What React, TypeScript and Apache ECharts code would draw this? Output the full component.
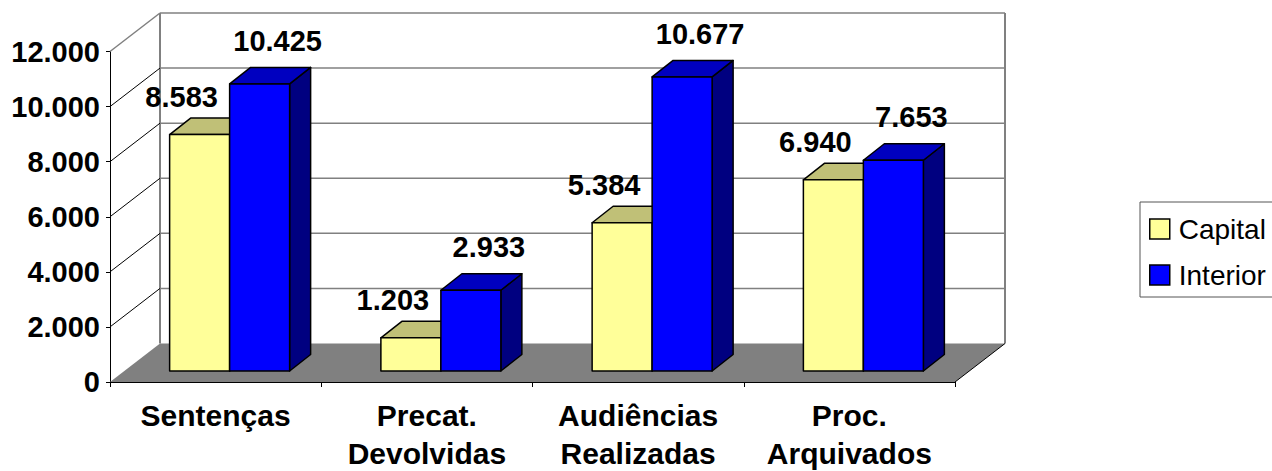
import React, { useEffect, useRef } from 'react';
import * as echarts from 'echarts';

const categories = ['Sentenças', 'Precat.\nDevolvidas', 'Audiências\nRealizadas', 'Proc.\nArquivados'];
const capital = [8583, 1203, 5384, 6940];
const interior = [10425, 2933, 10677, 7653];
const yTicks = [0, 2000, 4000, 6000, 8000, 10000, 12000];

const FONT = '"Liberation Sans", Arial, sans-serif';
const DEPTH = [50, -38.5];
const FRONT = [14, -11];
const BAR_D = [21, -16.5];

const fmt = (v: number) => String(v).replace(/\B(?=(\d{3})+(?!\d))/g, '.');

function barRender(side: number, front: string, top: string, sideCol: string) {
  return (params: any, api: any) => {
    const idx = api.value(0);
    const v = api.value(1);
    const base = api.coord([idx, 0]);
    const tp = api.coord([idx, v]);
    const band = api.size([1, 0])[0];
    const w = band * 0.284;
    const cx = base[0] + FRONT[0];
    const l = side === 0 ? cx - w : cx;
    const r = l + w;
    const b = base[1] + FRONT[1];
    const t = tp[1] + FRONT[1];
    const [dx, dy] = BAR_D;
    const stroke = { stroke: '#000', lineWidth: 1.5, lineJoin: 'round' };
    const labelX = side === 0 ? (l + r) / 2 - 18 : (l + r) / 2 + 18;
    const labelY = side === 0 ? t + dy - 7 : t + dy - 12;
    return {
      type: 'group',
      children: [
        { type: 'polygon', shape: { points: [[r, t], [r + dx, t + dy], [r + dx, b + dy], [r, b]] }, style: { fill: sideCol, ...stroke } },
        { type: 'polygon', shape: { points: [[l, t], [r, t], [r + dx, t + dy], [l + dx, t + dy]] }, style: { fill: top, ...stroke } },
        { type: 'rect', shape: { x: l, y: t, width: w, height: b - t }, style: { fill: front, ...stroke } },
        {
          type: 'text',
          x: labelX,
          y: labelY,
          style: { text: fmt(v), fontSize: 29, fontWeight: 'bold', fontFamily: FONT, fill: '#000', align: 'center', verticalAlign: 'bottom' },
        },
      ],
    };
  };
}

function frameRender(params: any, api: any) {
  const v = api.value(1);
  const cs = params.coordSys;
  const x0 = cs.x;
  const x1 = cs.x + cs.width;
  const y = api.coord([0, v])[1];
  const [dx, dy] = DEPTH;
  const children: any[] = [];
  if (params.dataIndex === 0) {
    const yTop = cs.y + dy;
    const yBot = cs.y + cs.height + dy;
    children.push({ type: 'rect', shape: { x: x0 + dx, y: yTop, width: cs.width, height: yBot - yTop }, style: { fill: '#fff' } });
    children.push({ type: 'line', shape: { x1: x0 + dx, y1: yTop, x2: x0 + dx, y2: yBot }, style: { stroke: '#808080', lineWidth: 2 } });
    children.push({ type: 'line', shape: { x1: x1 + dx, y1: yTop, x2: x1 + dx, y2: yBot }, style: { stroke: '#808080', lineWidth: 2 } });
    children.push({
      type: 'polygon',
      shape: { points: [[x0, y], [x1, y], [x1 + dx, y + dy], [x0 + dx, y + dy]] },
      style: { fill: '#808080' },
    });
    children.push({ type: 'line', shape: { x1: x1, y1: y, x2: x1 + dx, y2: y + dy }, style: { stroke: '#000', lineWidth: 1 } });
  } else {
    const top = v === yTicks[yTicks.length - 1];
    children.push({ type: 'line', shape: { x1: x0, y1: y, x2: x0 + dx, y2: y + dy }, style: { stroke: top ? '#808080' : '#000', lineWidth: top ? 1.5 : 1 } });
    children.push({ type: 'line', shape: { x1: x0 + dx, y1: y + dy, x2: x1 + dx, y2: y + dy }, style: { stroke: '#808080', lineWidth: 1.5 } });
  }
  return { type: 'group', children };
}

export default function App() {
  const ref = useRef<HTMLDivElement>(null);
  useEffect(() => {
    const chart = echarts.init(ref.current!, null, { renderer: 'svg' });
    chart.setOption({
      animation: false,
      backgroundColor: '#fff',
      grid: { left: 110, top: 51.5, right: 317, bottom: 89, outerBoundsMode: 'none' },
      legend: {
        orient: 'vertical',
        left: 1140,
        top: 202,
        padding: [13, 20, 8, 9],
        itemWidth: 20,
        itemHeight: 20,
        itemGap: 18,
        borderColor: '#555',
        borderWidth: 1,
        icon: 'rect',
        itemStyle: { borderColor: '#000', borderWidth: 1.5 },
        textStyle: { fontSize: 28, fontFamily: FONT, color: '#000', padding: [0, 0, 0, 4] },
        data: ['Capital', 'Interior'],
      },
      xAxis: {
        type: 'category',
        data: categories,
        boundaryGap: true,
        axisLine: { lineStyle: { color: '#000', width: 1 } },
        axisTick: { show: true, length: 5, interval: 0, lineStyle: { color: '#000' } },
        axisLabel: { interval: 0, fontSize: 30, fontWeight: 'bold', fontFamily: FONT, color: '#000', lineHeight: 38, margin: 14 },
        splitLine: { show: false },
      },
      yAxis: {
        type: 'value',
        min: 0,
        max: 12000,
        interval: 2000,
        axisLine: { show: true, lineStyle: { color: '#000', width: 1 } },
        axisTick: { show: true, length: 4, lineStyle: { color: '#000' } },
        axisLabel: { fontSize: 29, fontWeight: 'bold', fontFamily: FONT, color: '#000', margin: 10, formatter: (v: number) => fmt(v) },
        splitLine: { show: false },
      },
      series: [
        {
          type: 'custom',
          name: 'frame',
          z: 1,
          silent: true,
          renderItem: frameRender,
          encode: { x: 0, y: 1 },
          data: yTicks.map((v) => [0, v]),
        },
        {
          type: 'custom',
          name: 'Capital',
          z: 3,
          itemStyle: { color: '#FFFF99' },
          renderItem: barRender(0, '#FFFF99', '#C0C077', '#808040'),
          encode: { x: 0, y: 1 },
          data: capital.map((v, i) => [i, v]),
        },
        {
          type: 'custom',
          name: 'Interior',
          z: 4,
          itemStyle: { color: '#0000FF' },
          renderItem: barRender(1, '#0000FF', '#0000C0', '#000080'),
          encode: { x: 0, y: 1 },
          data: interior.map((v, i) => [i, v]),
        },
      ],
    });
    return () => chart.dispose();
  }, []);
  return <div ref={ref} style={{ position: 'fixed', left: 0, top: 0, width: 1272, height: 471, background: '#fff' }} />;
}
